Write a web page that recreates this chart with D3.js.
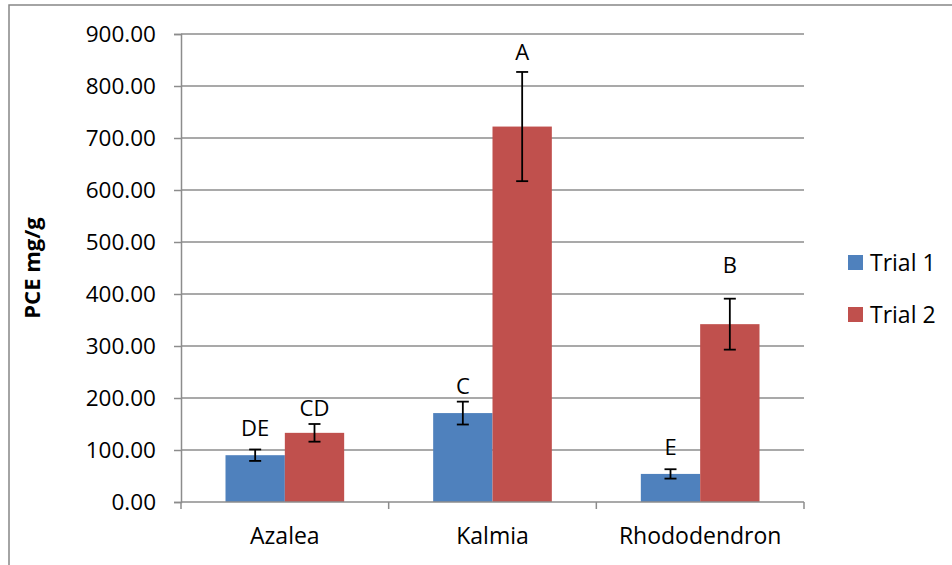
<!DOCTYPE html>
<html><head><meta charset="utf-8">
<script src="https://cdn.jsdelivr.net/npm/d3@7"></script>
<style>
html,body{margin:0;padding:0;background:#fff;}
svg{display:block;font-family:"Open Sans",sans-serif;}
</style></head>
<body><svg id="c" width="952" height="565"></svg>
<script>
const categories = ["Azalea","Kalmia","Rhododendron"];
const seriesNames = ["Trial 1","Trial 2"];
const trial1 = [90, 171, 54];
const trial2 = [133, 722, 342];
const err1 = [11, 22, 9];
const err2 = [17, 105, 49];
const letters1 = ["DE","C","E"];
const letters2 = ["CD","A","B"];
const letterAt1 = [142, 222, 106];
const letterAt2 = [181, 865, 456];
const yTicks = [0,100,200,300,400,500,600,700,800,900];
const colors = ["#4F81BD","#C0504D"];

const svg = d3.select("#c");
const L = 181, R = 804, T = 34, B = 502;
svg.append("rect").attr("x",9).attr("y",5).attr("width",1000).attr("height",1000)
  .attr("fill","#fff").attr("stroke","#878787").attr("stroke-width",1.5);

const x = d3.scaleBand().domain(categories).range([L,R]).paddingInner(0).paddingOuter(0);
const y = d3.scaleLinear().domain([0,900]).range([B,T]);
const bw = x.bandwidth()/3.5;

// gridlines
svg.append("g").selectAll("line").data(yTicks.slice(1)).join("line")
  .attr("x1",L).attr("x2",R).attr("y1",d=>y(d)).attr("y2",d=>y(d))
  .attr("stroke","#8c8c8c").attr("stroke-width",1.5);

// y axis
const ya = svg.append("g").attr("transform",`translate(${L},0)`)
  .call(d3.axisLeft(y).tickValues(yTicks).tickFormat(d3.format(".2f")).tickSize(7).tickPadding(18));
ya.select(".domain").attr("stroke","#8c8c8c").attr("stroke-width",1.5);
ya.selectAll(".tick line").attr("stroke","#8c8c8c").attr("stroke-width",1.5);
ya.selectAll(".tick text").attr("font-size",22.5).attr("font-family","Open Sans").attr("fill","#000");

// bars
const series = [trial1, trial2], errs=[err1,err2], lets=[letters1,letters2], letAt=[letterAt1,letterAt2];
series.forEach((vals,si)=>{
  const g = svg.append("g");
  g.selectAll("rect").data(vals).join("rect")
    .attr("x",(d,i)=>x(categories[i]) + bw*0.75 + si*bw)
    .attr("y",d=>y(d)).attr("width",bw).attr("height",d=>y(0)-y(d))
    .attr("fill",colors[si]);
  const eg = svg.append("g").attr("stroke","#000").attr("stroke-width",1.8);
  vals.forEach((v,i)=>{
    const cx = x(categories[i]) + bw*0.75 + si*bw + bw/2;
    const e = errs[si][i];
    eg.append("line").attr("x1",cx).attr("x2",cx).attr("y1",y(v+e)).attr("y2",y(v-e));
    eg.append("line").attr("x1",cx-6).attr("x2",cx+6).attr("y1",y(v+e)).attr("y2",y(v+e));
    eg.append("line").attr("x1",cx-6).attr("x2",cx+6).attr("y1",y(v-e)).attr("y2",y(v-e));
    svg.append("text").attr("x",cx).attr("y",y(letAt[si][i])).attr("dy","0.36em")
      .attr("text-anchor","middle").attr("font-size",22).attr("fill","#000").text(lets[si][i]);
  });
});

// x axis
const xa = svg.append("g").attr("transform",`translate(0,${B})`)
  .call(d3.axisBottom(x).tickSize(0).tickPadding(26));
xa.select(".domain").remove();
xa.append("line").attr("x1",L).attr("x2",R).attr("stroke","#8c8c8c").attr("stroke-width",1.5);
xa.selectAll(".xt").data(d3.range(categories.length+1)).join("line")
  .attr("x1",i=>L+i*x.bandwidth()).attr("x2",i=>L+i*x.bandwidth()).attr("y1",0).attr("y2",7)
  .attr("stroke","#8c8c8c").attr("stroke-width",1.5);
xa.selectAll(".tick text").attr("font-size",23).attr("font-family","Open Sans").attr("fill","#000").attr("dy","0.71em");

// y title
svg.append("text").attr("transform",`translate(40,${(T+B)/2}) rotate(-90)`)
  .attr("text-anchor","middle").attr("font-size",22).attr("font-weight","bold").attr("fill","#000").text("PCE mg/g");

// legend
const lg = svg.append("g");
seriesNames.forEach((n,i)=>{
  lg.append("rect").attr("x",848).attr("y",255+i*52).attr("width",15).attr("height",15).attr("fill",colors[i]);
  lg.append("text").attr("x",870).attr("y",262.5+i*52).attr("dy","0.36em").attr("font-size",23).attr("fill","#000").text(n);
});
</script></body></html>
